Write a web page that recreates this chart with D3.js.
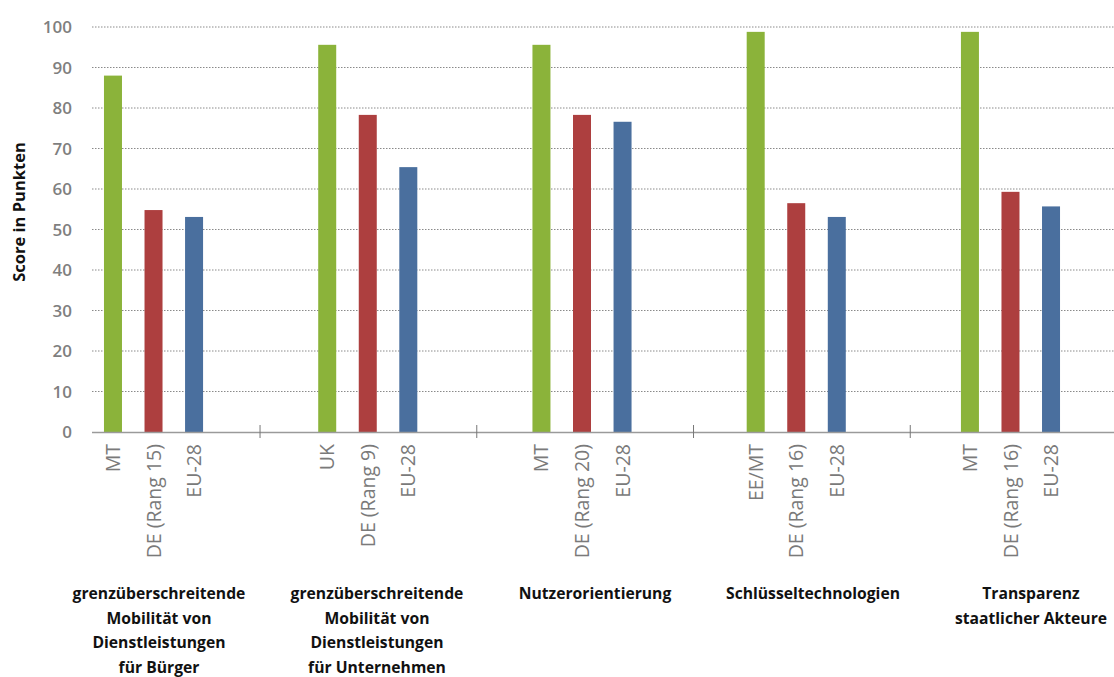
<!DOCTYPE html>
<html>
<head>
<meta charset="utf-8">
<script src="https://cdn.jsdelivr.net/npm/d3@7"></script>
<style>
  body { margin: 0; background: #fff; }
  svg { display: block; }
</style>
</head>
<body>
<svg id="chart" width="1114" height="677"></svg>
<script>
// Indicator groups (multi-line category titles)
const categories = [
  ["grenzüberschreitende", "Mobilität von", "Dienstleistungen", "für Bürger"],
  ["grenzüberschreitende", "Mobilität von", "Dienstleistungen", "für Unternehmen"],
  ["Nutzerorientierung"],
  ["Schlüsseltechnologien"],
  ["Transparenz", "staatlicher Akteure"]
];
// Bar labels inside each group: best country, Germany (rank), EU average
const bestLabels = ["MT", "UK", "MT", "EE/MT", "MT"];
const deLabels = ["DE (Rang 15)", "DE (Rang 9)", "DE (Rang 20)", "DE (Rang 16)", "DE (Rang 16)"];
const euLabels = ["EU-28", "EU-28", "EU-28", "EU-28", "EU-28"];
// Scores
const bestValues = [88, 95.6, 95.6, 98.8, 98.8];
const deValues = [54.8, 78.3, 78.3, 56.5, 59.3];
const euValues = [53.1, 65.4, 76.6, 53.1, 55.7];
const yTicks = [0, 10, 20, 30, 40, 50, 60, 70, 80, 90, 100];

const seriesKeys = ["best", "de", "eu"];
const colors = { best: "#8bb33a", de: "#ad3f3f", eu: "#4a6f9e" };

const rows = categories.map((c, i) => ({
  idx: i,
  bars: [
    { key: "best", label: bestLabels[i], value: bestValues[i] },
    { key: "de", label: deLabels[i], value: deValues[i] },
    { key: "eu", label: euLabels[i], value: euValues[i] }
  ]
}));

const svg = d3.select("#chart");
const W = 1114;
const axisLeft = 92;

const y = d3.scaleLinear().domain([0, 100]).range([432, 27]);

// group slots for bars
const x0 = d3.scaleBand().domain(d3.range(categories.length)).range([46.4, 1117.6]);
const x1 = d3.scaleBand().domain(seriesKeys).range([0, x0.bandwidth()])
  .paddingInner(0.556).paddingOuter(1.42);
// group separators on the category axis
const xSep = d3.scaleBand().domain(d3.range(categories.length)).range([43.3, 1127]);
// category titles below the axis
const xTitle = d3.scaleBand().domain(d3.range(categories.length)).range([50, 1140]);

const font = "'Open Sans', 'Noto Sans', sans-serif";

// gridlines
svg.append("g").selectAll("line")
  .data(yTicks.filter(d => d > 0))
  .join("line")
  .attr("x1", axisLeft).attr("x2", W)
  .attr("y1", d => y(d)).attr("y2", d => y(d))
  .attr("stroke", "#8a8a8a")
  .attr("stroke-width", 1)
  .attr("stroke-dasharray", "1.5,1.5");

// y tick labels
svg.append("g").selectAll("text")
  .data(yTicks)
  .join("text")
  .attr("x", 72)
  .attr("y", d => y(d))
  .attr("dy", "0.36em")
  .attr("text-anchor", "end")
  .attr("font-family", font)
  .attr("font-weight", 600)
  .attr("font-size", 17)
  .attr("fill", "#7f7f7f")
  .text(d => d);

// y title
svg.append("text")
  .attr("transform", "translate(19,212) rotate(-90)")
  .attr("text-anchor", "middle")
  .attr("dy", "0.36em")
  .attr("font-family", font)
  .attr("font-weight", 700)
  .attr("font-size", 16.5)
  .attr("fill", "#111")
  .text("Score in Punkten");

// bars
const groups = svg.append("g").selectAll("g")
  .data(rows)
  .join("g")
  .attr("transform", d => `translate(${x0(d.idx)},0)`);

groups.selectAll("rect")
  .data(d => d.bars)
  .join("rect")
  .attr("x", d => x1(d.key))
  .attr("width", x1.bandwidth())
  .attr("y", d => y(d.value))
  .attr("height", d => y(0) - y(d.value))
  .attr("fill", d => colors[d.key]);

// rotated bar labels
groups.selectAll("text")
  .data(d => d.bars)
  .join("text")
  .attr("transform", d => `translate(${x1(d.key) + x1.bandwidth() / 2},444) rotate(-90)`)
  .attr("dy", "0.36em")
  .attr("text-anchor", "end")
  .attr("font-family", font)
  .attr("font-size", 19.5)
  .attr("fill", "#7a7a7a")
  .text(d => d.label);

// x axis line
svg.append("line")
  .attr("x1", axisLeft).attr("x2", W)
  .attr("y1", y(0) + 0.5).attr("y2", y(0) + 0.5)
  .attr("stroke", "#9a9a9a")
  .attr("stroke-width", 1.5);

// group separators
svg.append("g").selectAll("line")
  .data(d3.range(1, categories.length))
  .join("line")
  .attr("x1", d => xSep(d)).attr("x2", d => xSep(d))
  .attr("y1", 425).attr("y2", 438)
  .attr("stroke", "#777")
  .attr("stroke-width", 1);

// category titles
const titles = svg.append("g").selectAll("text")
  .data(categories)
  .join("text")
  .attr("x", (d, i) => xTitle(i) + xTitle.bandwidth() / 2)
  .attr("y", 599)
  .attr("text-anchor", "middle")
  .attr("font-family", font)
  .attr("font-weight", 700)
  .attr("font-size", 15.7)
  .attr("fill", "#111");

titles.selectAll("tspan")
  .data(d => d)
  .join("tspan")
  .attr("x", function () { return this.parentNode.getAttribute("x"); })
  .attr("dy", (d, i) => i === 0 ? 0 : 24.5)
  .text(d => d);
</script>
</body>
</html>
